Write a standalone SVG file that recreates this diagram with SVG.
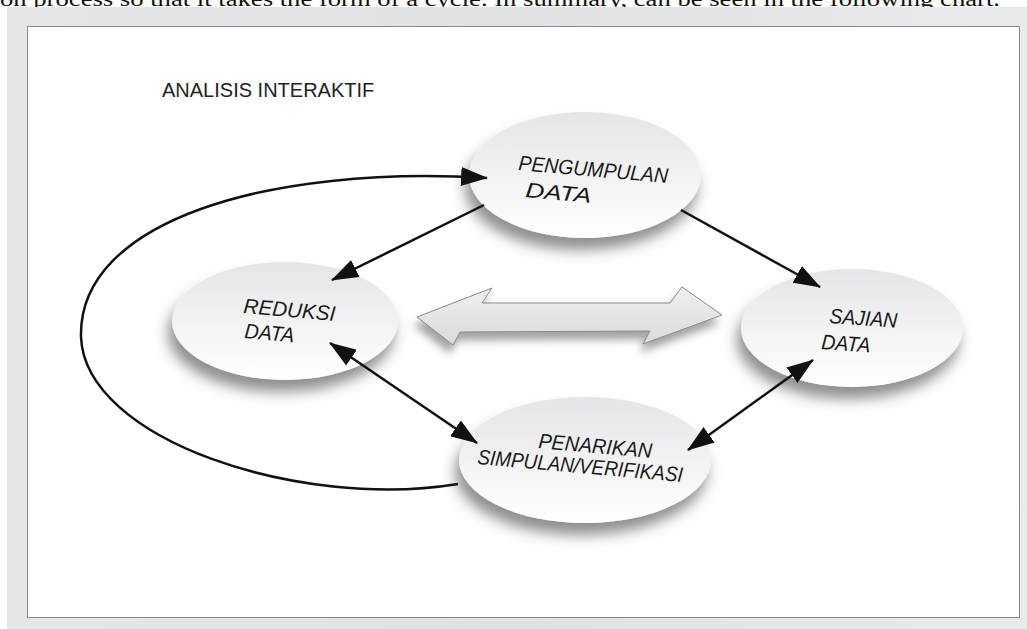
<svg xmlns="http://www.w3.org/2000/svg" width="1027" height="629" viewBox="0 0 1027 629">
<style>
.lbl{font-family:"Liberation Sans",Arial,sans-serif;font-style:italic;font-size:21px;fill:#1a1a1a}
.title{font-family:"Liberation Sans",Arial,sans-serif;font-size:20px;fill:#222}
.con{fill:none;stroke:#111;stroke-width:2.5}
.node{fill:url(#nodeGrad);filter:url(#shadow)}
</style>
<defs>
<linearGradient id="bgGrad" x1="0" y1="0" x2="1" y2="0">
<stop offset="0" stop-color="#e4e6e8"/>
<stop offset="0.5" stop-color="#dfe2e5"/>
<stop offset="1" stop-color="#e8eaec"/>
</linearGradient>
<linearGradient id="nodeGrad" x1="0" y1="0" x2="0" y2="1">
<stop offset="0" stop-color="#e4e5e8"/>
<stop offset="0.6" stop-color="#f5f5f6"/>
<stop offset="1" stop-color="#ffffff"/>
</linearGradient>
<linearGradient id="arrGrad" x1="0" y1="0" x2="0" y2="1">
<stop offset="0" stop-color="#eff0f2"/>
<stop offset="1" stop-color="#d8dadd"/>
</linearGradient>
<filter id="shadow" x="-30%" y="-30%" width="160%" height="180%">
<feDropShadow dx="-4" dy="12" stdDeviation="7" flood-color="#444" flood-opacity="0.6"/>
</filter>
<filter id="ashadow" x="-20%" y="-50%" width="140%" height="220%">
<feDropShadow dx="-3" dy="8" stdDeviation="4" flood-color="#555" flood-opacity="0.55"/>
</filter>
<marker id="ah" viewBox="0 0 27 19" refX="26" refY="9.5" markerWidth="27" markerHeight="19" markerUnits="userSpaceOnUse" orient="auto-start-reverse">
<path d="M0,0 L27,9.5 L0,19 Z" fill="#111"/>
</marker>
</defs>
<rect x="0" y="0" width="1027" height="629" fill="#ffffff"/>
<text x="0" y="6" font-family="'Liberation Serif','Times New Roman',serif" font-size="20" fill="#111" textLength="1000" lengthAdjust="spacingAndGlyphs">on process so that it takes the form of a cycle. In summary, can be seen in the following chart.</text>
<rect x="7" y="7" width="1020" height="622" fill="url(#bgGrad)"/>
<rect x="27.5" y="26.5" width="992" height="591" fill="#ffffff" stroke="#8c8c8c" stroke-width="1"/>
<text class="title" x="162" y="97">ANALISIS INTERAKTIF</text>

<g id="node-pengumpulan">
<ellipse class="node" cx="585" cy="175" rx="116" ry="63"/>
<text class="lbl" x="518" y="170" textLength="150" lengthAdjust="spacingAndGlyphs" transform="rotate(5 518 170)">PENGUMPULAN</text>
<text class="lbl" x="525" y="197" textLength="66" lengthAdjust="spacingAndGlyphs" transform="rotate(5 525 197)">DATA</text>
</g>
<g id="node-reduksi">
<ellipse class="node" cx="285" cy="321" rx="113" ry="59"/>
<text class="lbl" x="243" y="313" textLength="92" lengthAdjust="spacingAndGlyphs" transform="rotate(5 243 313)">REDUKSI</text>
<text class="lbl" x="244" y="338" textLength="50" lengthAdjust="spacingAndGlyphs" transform="rotate(5 244 338)">DATA</text>
</g>
<g id="node-sajian">
<ellipse class="node" cx="852" cy="328" rx="111" ry="59"/>
<text class="lbl" x="829" y="323" textLength="68" lengthAdjust="spacingAndGlyphs" transform="rotate(4 829 323)">SAJIAN</text>
<text class="lbl" x="821" y="349" textLength="49" lengthAdjust="spacingAndGlyphs" transform="rotate(4 821 349)">DATA</text>
</g>
<g id="node-penarikan">
<ellipse class="node" cx="585" cy="460" rx="126" ry="63"/>
<text class="lbl" x="538" y="448" textLength="114" lengthAdjust="spacingAndGlyphs" transform="rotate(5 538 448)">PENARIKAN</text>
<text class="lbl" x="477" y="464" textLength="206" lengthAdjust="spacingAndGlyphs" transform="rotate(5 477 464)">SIMPULAN/VERIFIKASI</text>
</g>
<g id="center-arrow">
<polygon points="417,317 492,288 482,303 670,303 682,287 722,315 643,344 650,331 460,332 453,345" fill="url(#arrGrad)" stroke="#8a8a8a" stroke-width="1" filter="url(#ashadow)"/>
</g>
<g id="connectors">
<line class="con" x1="484" y1="205" x2="332" y2="280" marker-end="url(#ah)"/>
<line class="con" x1="681" y1="210" x2="820" y2="287" marker-end="url(#ah)"/>
<line class="con" x1="330" y1="343" x2="477" y2="443" marker-start="url(#ah)" marker-end="url(#ah)"/>
<line class="con" x1="813" y1="360" x2="688" y2="450" marker-start="url(#ah)" marker-end="url(#ah)"/>
<path class="con" d="M458,484 C300,510 85,440 81,337 C78,220 270,165 487,178" marker-end="url(#ah)"/>
</g>
</svg>
